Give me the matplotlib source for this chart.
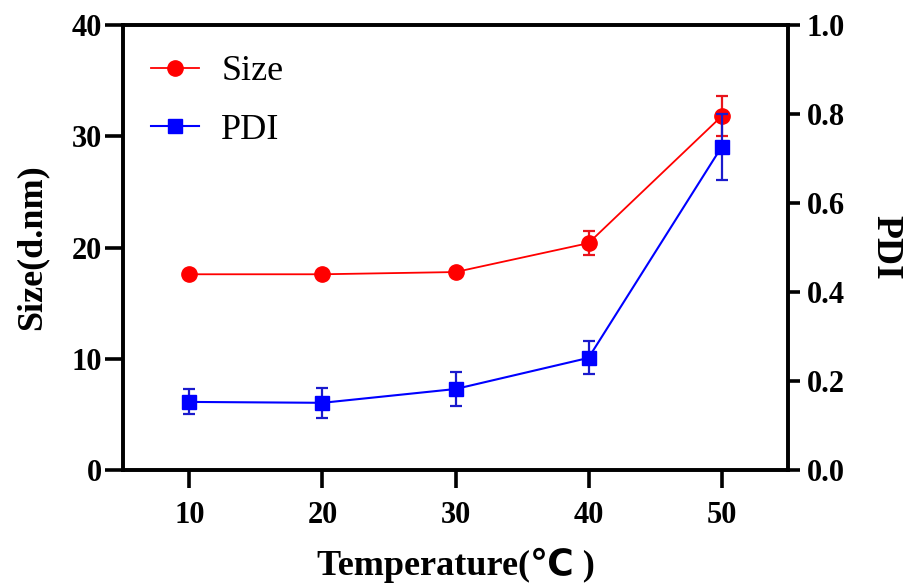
import matplotlib
matplotlib.use("Agg")
from matplotlib import pyplot as plt
from matplotlib.lines import Line2D

temps = [10, 20, 30, 40, 50]
size_nm = [17.6, 17.6, 17.8, 20.4, 31.8]
size_err = [0.0, 0.0, 0.0, 1.1, 1.8]
pdi = [0.153, 0.151, 0.182, 0.252, 0.726]
pdi_err = [0.028, 0.034, 0.038, 0.037, 0.074]

plt.rcParams['font.family'] = ['Liberation Serif', 'DejaVu Sans']
plt.rcParams['font.weight'] = 'bold'

fig = plt.figure(figsize=(9.11, 5.86), dpi=100)
ax = fig.add_axes([0.135, 0.198, 0.73, 0.759])
ax2 = ax.twinx()

red = '#ff0000'
blue = '#0000ff'
ax.errorbar(temps, size_nm, yerr=size_err, color=red, ecolor='#e8141c',
            marker='o', markersize=11, lw=1.3, elinewidth=1.6, capsize=4.5,
            capthick=1.6)
ax2.errorbar(temps, pdi, yerr=pdi_err, color=blue, ecolor='#1a1acc',
             marker='s', markersize=9.5, lw=1.5, elinewidth=1.6, capsize=4.5,
             capthick=1.6)

ax.set_xlim(5, 55)
ax.set_ylim(0, 40)
ax2.set_ylim(0, 1.0)
ax.set_xticks(temps)
ax.set_yticks([0, 10, 20, 30, 40])
ax2.set_yticks([0.0, 0.2, 0.4, 0.6, 0.8, 1.0])
ax2.set_yticklabels(['0.0', '0.2', '0.4', '0.6', '0.8', '1.0'])

for a in (ax, ax2):
    for s in a.spines.values():
        s.set_linewidth(2.6)
    for t in a.get_xticklabels() + a.get_yticklabels():
        t.set_fontweight('bold')
ax.tick_params(axis='y', width=2.6, length=13, labelsize=22, pad=2)
ax.tick_params(axis='x', width=2.6, length=13, labelsize=22, pad=9)
ax2.tick_params(axis='y', width=2.6, length=8.5, labelsize=22, pad=5)

ax.set_xlabel('Temperature(℃ )', fontsize=26, fontweight='bold', labelpad=13)
ax.set_ylabel('Size(d.nm)', fontsize=26, fontweight='bold', labelpad=17)
ax2.set_ylabel('PDI', fontsize=27, fontweight='bold', rotation=270, labelpad=42)

handles = [Line2D([], [], color=red, marker='o', markersize=11, lw=1.3),
           Line2D([], [], color=blue, marker='s', markersize=9.5, lw=1.5)]
ax.legend(handles, ['Size', 'PDI'], loc='upper left', frameon=False,
          prop={'size': 26, 'weight': 'normal'}, handlelength=1.35,
          handletextpad=0.6, labelspacing=0.7, borderaxespad=0.0,
          bbox_to_anchor=(0.02, 0.965))

fig.savefig('out.png', dpi=100)
